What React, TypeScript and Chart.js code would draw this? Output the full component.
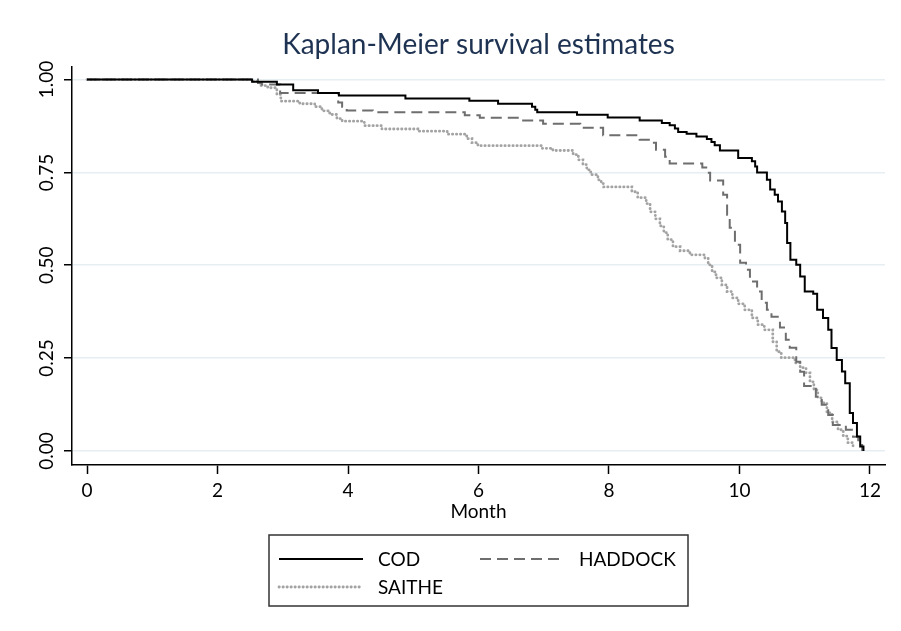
import { useEffect, useRef } from "react"
import { Chart, registerables } from "chart.js"

Chart.register(...registerables)

// Kaplan-Meier steps (time in months, survival)
const codTimes = [0, 2.53, 2.91, 3.16, 3.54, 3.86, 4.88, 5.86, 6.3, 6.82, 6.87, 6.9, 7.51, 7.98, 8.47, 8.81, 8.93, 9.01, 9.06, 9.19, 9.34, 9.5, 9.57, 9.62, 9.7, 9.98, 10.19, 10.24, 10.27, 10.42, 10.47, 10.54, 10.59, 10.65, 10.7, 10.73, 10.78, 10.87, 10.93, 11.0, 11.13, 11.19, 11.28, 11.36, 11.41, 11.49, 11.57, 11.62, 11.69, 11.74, 11.8, 11.85, 11.9]
const codSurv = [1, 0.994, 0.987, 0.971, 0.964, 0.957, 0.949, 0.943, 0.935, 0.927, 0.919, 0.912, 0.905, 0.898, 0.89, 0.883, 0.877, 0.868, 0.859, 0.854, 0.847, 0.84, 0.832, 0.823, 0.809, 0.789, 0.78, 0.766, 0.75, 0.73, 0.704, 0.69, 0.672, 0.645, 0.614, 0.56, 0.515, 0.501, 0.47, 0.429, 0.423, 0.38, 0.358, 0.326, 0.277, 0.245, 0.214, 0.182, 0.102, 0.075, 0.039, 0.012, 0]

const haddockTimes = [0, 2.62, 2.68, 2.96, 3.85, 3.91, 3.98, 4.38, 5.79, 6.02, 6.64, 6.99, 7.56, 7.91, 8.47, 8.67, 8.72, 8.86, 8.93, 9.43, 9.49, 9.55, 9.75, 9.81, 9.85, 9.93, 10.01, 10.1, 10.16, 10.27, 10.34, 10.42, 10.49, 10.62, 10.71, 10.77, 10.87, 10.93, 10.99, 11.17, 11.26, 11.36, 11.43, 11.63, 11.74, 11.82, 11.88]
const haddockSurv = [1, 0.991, 0.987, 0.964, 0.938, 0.927, 0.917, 0.912, 0.904, 0.897, 0.89, 0.881, 0.87, 0.85, 0.838, 0.83, 0.811, 0.792, 0.774, 0.763, 0.749, 0.728, 0.69, 0.636, 0.601, 0.555, 0.507, 0.488, 0.456, 0.429, 0.399, 0.38, 0.361, 0.332, 0.299, 0.278, 0.24, 0.213, 0.175, 0.146, 0.124, 0.097, 0.07, 0.057, 0.038, 0.016, 0]

const saitheTimes = [0, 2.53, 2.65, 2.77, 2.91, 2.97, 3.26, 3.49, 3.6, 3.72, 3.83, 3.91, 4.25, 4.52, 5.07, 5.52, 5.82, 5.9, 5.99, 6.97, 7.14, 7.45, 7.53, 7.6, 7.66, 7.72, 7.83, 7.88, 7.92, 8.35, 8.44, 8.57, 8.63, 8.71, 8.78, 8.84, 8.9, 8.98, 9.09, 9.24, 9.47, 9.52, 9.58, 9.64, 9.73, 9.81, 9.89, 9.98, 10.08, 10.19, 10.28, 10.38, 10.51, 10.57, 10.64, 10.85, 10.93, 11.02, 11.08, 11.14, 11.2, 11.26, 11.34, 11.42, 11.51, 11.59, 11.66, 11.74]
const saitheSurv = [1, 0.995, 0.984, 0.978, 0.96, 0.942, 0.935, 0.927, 0.916, 0.906, 0.895, 0.888, 0.876, 0.867, 0.861, 0.853, 0.841, 0.83, 0.822, 0.815, 0.809, 0.798, 0.784, 0.771, 0.757, 0.744, 0.73, 0.72, 0.711, 0.698, 0.682, 0.666, 0.644, 0.625, 0.606, 0.588, 0.569, 0.55, 0.539, 0.528, 0.519, 0.501, 0.482, 0.466, 0.447, 0.429, 0.412, 0.396, 0.38, 0.358, 0.34, 0.326, 0.294, 0.267, 0.251, 0.237, 0.224, 0.21, 0.186, 0.164, 0.143, 0.129, 0.102, 0.078, 0.057, 0.04, 0.022, 0.011]

const xTicks = [0, 2, 4, 6, 8, 10, 12]
const yTicks = [0, 0.25, 0.5, 0.75, 1]

const FONT = "Lato, 'Open Sans', sans-serif"

const toPoints = (times: number[], surv: number[]) => times.map((t, i) => ({ x: t, y: surv[i] }))

// y tick labels are drawn rotated, like Stata does
const rotatedYLabels = {
  id: "rotatedYLabels",
  afterDraw(chart: any) {
    const { ctx } = chart
    const y = chart.scales.y
    ctx.save()
    ctx.fillStyle = "#000"
    ctx.font = `19px ${FONT}`
    ctx.textAlign = "center"
    ctx.textBaseline = "middle"
    yTicks.forEach((v) => {
      ctx.save()
      ctx.translate(47, y.getPixelForValue(v))
      ctx.rotate(-Math.PI / 2)
      ctx.fillText(v.toFixed(2), 0, 0)
      ctx.restore()
    })
    ctx.restore()
  },
}

// boxed legend under the plot
const boxedLegend = {
  id: "boxedLegend",
  afterDraw(chart: any) {
    const { ctx } = chart
    const box = { left: 269, top: 535, width: 419, height: 71 }
    const items = [
      { ds: 0, x: 279, y: 559 },
      { ds: 1, x: 480, y: 559 },
      { ds: 2, x: 279, y: 587 },
    ]
    ctx.save()
    ctx.strokeStyle = "#333"
    ctx.lineWidth = 1.5
    ctx.strokeRect(box.left, box.top, box.width, box.height)
    ctx.font = `19px ${FONT}`
    ctx.textBaseline = "middle"
    ctx.fillStyle = "#000"
    items.forEach(({ ds, x, y }) => {
      const d = chart.data.datasets[ds]
      ctx.save()
      ctx.strokeStyle = d.borderColor
      ctx.lineWidth = d.borderWidth
      ctx.lineCap = d.borderCapStyle || "butt"
      ctx.setLineDash(d.borderDash || [])
      ctx.beginPath()
      ctx.moveTo(x, y)
      ctx.lineTo(x + 84, y)
      ctx.stroke()
      ctx.restore()
      ctx.fillText(d.label, x + 99, y + 1)
    })
    ctx.restore()
  },
}

export default function App() {
  const chartRef = useRef<HTMLCanvasElement>(null)
  const chartInstance = useRef<Chart | null>(null)

  useEffect(() => {
    document.body.style.margin = "0"
    if (!chartRef.current) return
    if (chartInstance.current) chartInstance.current.destroy()
    const ctx = chartRef.current.getContext("2d")
    if (!ctx) return

    chartInstance.current = new Chart(ctx, {
      type: "line",
      data: {
        datasets: [
          {
            label: "COD",
            data: toPoints(codTimes, codSurv),
            borderColor: "#000000",
            borderWidth: 2,
            stepped: true,
            pointRadius: 0,
          },
          {
            label: "HADDOCK",
            data: toPoints(haddockTimes, haddockSurv),
            borderColor: "#6e6e6e",
            borderWidth: 2,
            borderDash: [11, 6],
            stepped: true,
            pointRadius: 0,
          },
          {
            label: "SAITHE",
            data: toPoints(saitheTimes, saitheSurv),
            borderColor: "#a3a3a3",
            borderWidth: 2.8,
            borderDash: [0.3, 3.7],
            borderCapStyle: "round",
            stepped: true,
            pointRadius: 0,
          },
        ],
      },
      options: {
        animation: false,
        responsive: true,
        maintainAspectRatio: false,
        layout: { padding: { left: 72, right: 16, top: 0, bottom: 96 } },
        plugins: {
          legend: { display: false },
          tooltip: { enabled: false },
          title: {
            display: true,
            text: "Kaplan-Meier survival estimates",
            color: "#1e3252",
            font: { family: FONT, size: 28, weight: "normal" },
            padding: { top: 28, bottom: 5 },
          },
        },
        scales: {
          x: {
            type: "linear",
            min: -0.23,
            max: 12.23,
            afterBuildTicks: (s: any) => {
              s.ticks = xTicks.map((v) => ({ value: v }))
            },
            afterFit: (s: any) => {
              s.height = 70
            },
            grid: { drawOnChartArea: false, drawTicks: true, tickLength: 9, tickColor: "#000", tickWidth: 1.5 },
            border: { color: "#000", width: 1.5 },
            ticks: { color: "#000", font: { family: FONT, size: 19 }, padding: 5 },
            title: {
              display: true,
              text: "Month",
              color: "#000",
              font: { family: FONT, size: 19 },
              padding: { top: 0, bottom: 12 },
            },
          },
          y: {
            type: "linear",
            min: -0.038,
            max: 1.035,
            afterBuildTicks: (s: any) => {
              s.ticks = yTicks.map((v) => ({ value: v }))
            },
            afterFit: (s: any) => {
              s.width = 0
            },
            grid: { color: "#e6eef2", lineWidth: 1.5, drawTicks: true, tickLength: 8, tickColor: "#000", tickWidth: 1.5 },
            border: { color: "#000", width: 1.5 },
            ticks: { display: false },
          },
        },
      },
      plugins: [rotatedYLabels, boxedLegend],
    })

    return () => {
      if (chartInstance.current) {
        chartInstance.current.destroy()
        chartInstance.current = null
      }
    }
  }, [])

  return (
    <div style={{ width: 901, height: 631, position: "relative", background: "#fff" }}>
      <canvas ref={chartRef} />
    </div>
  )
}
